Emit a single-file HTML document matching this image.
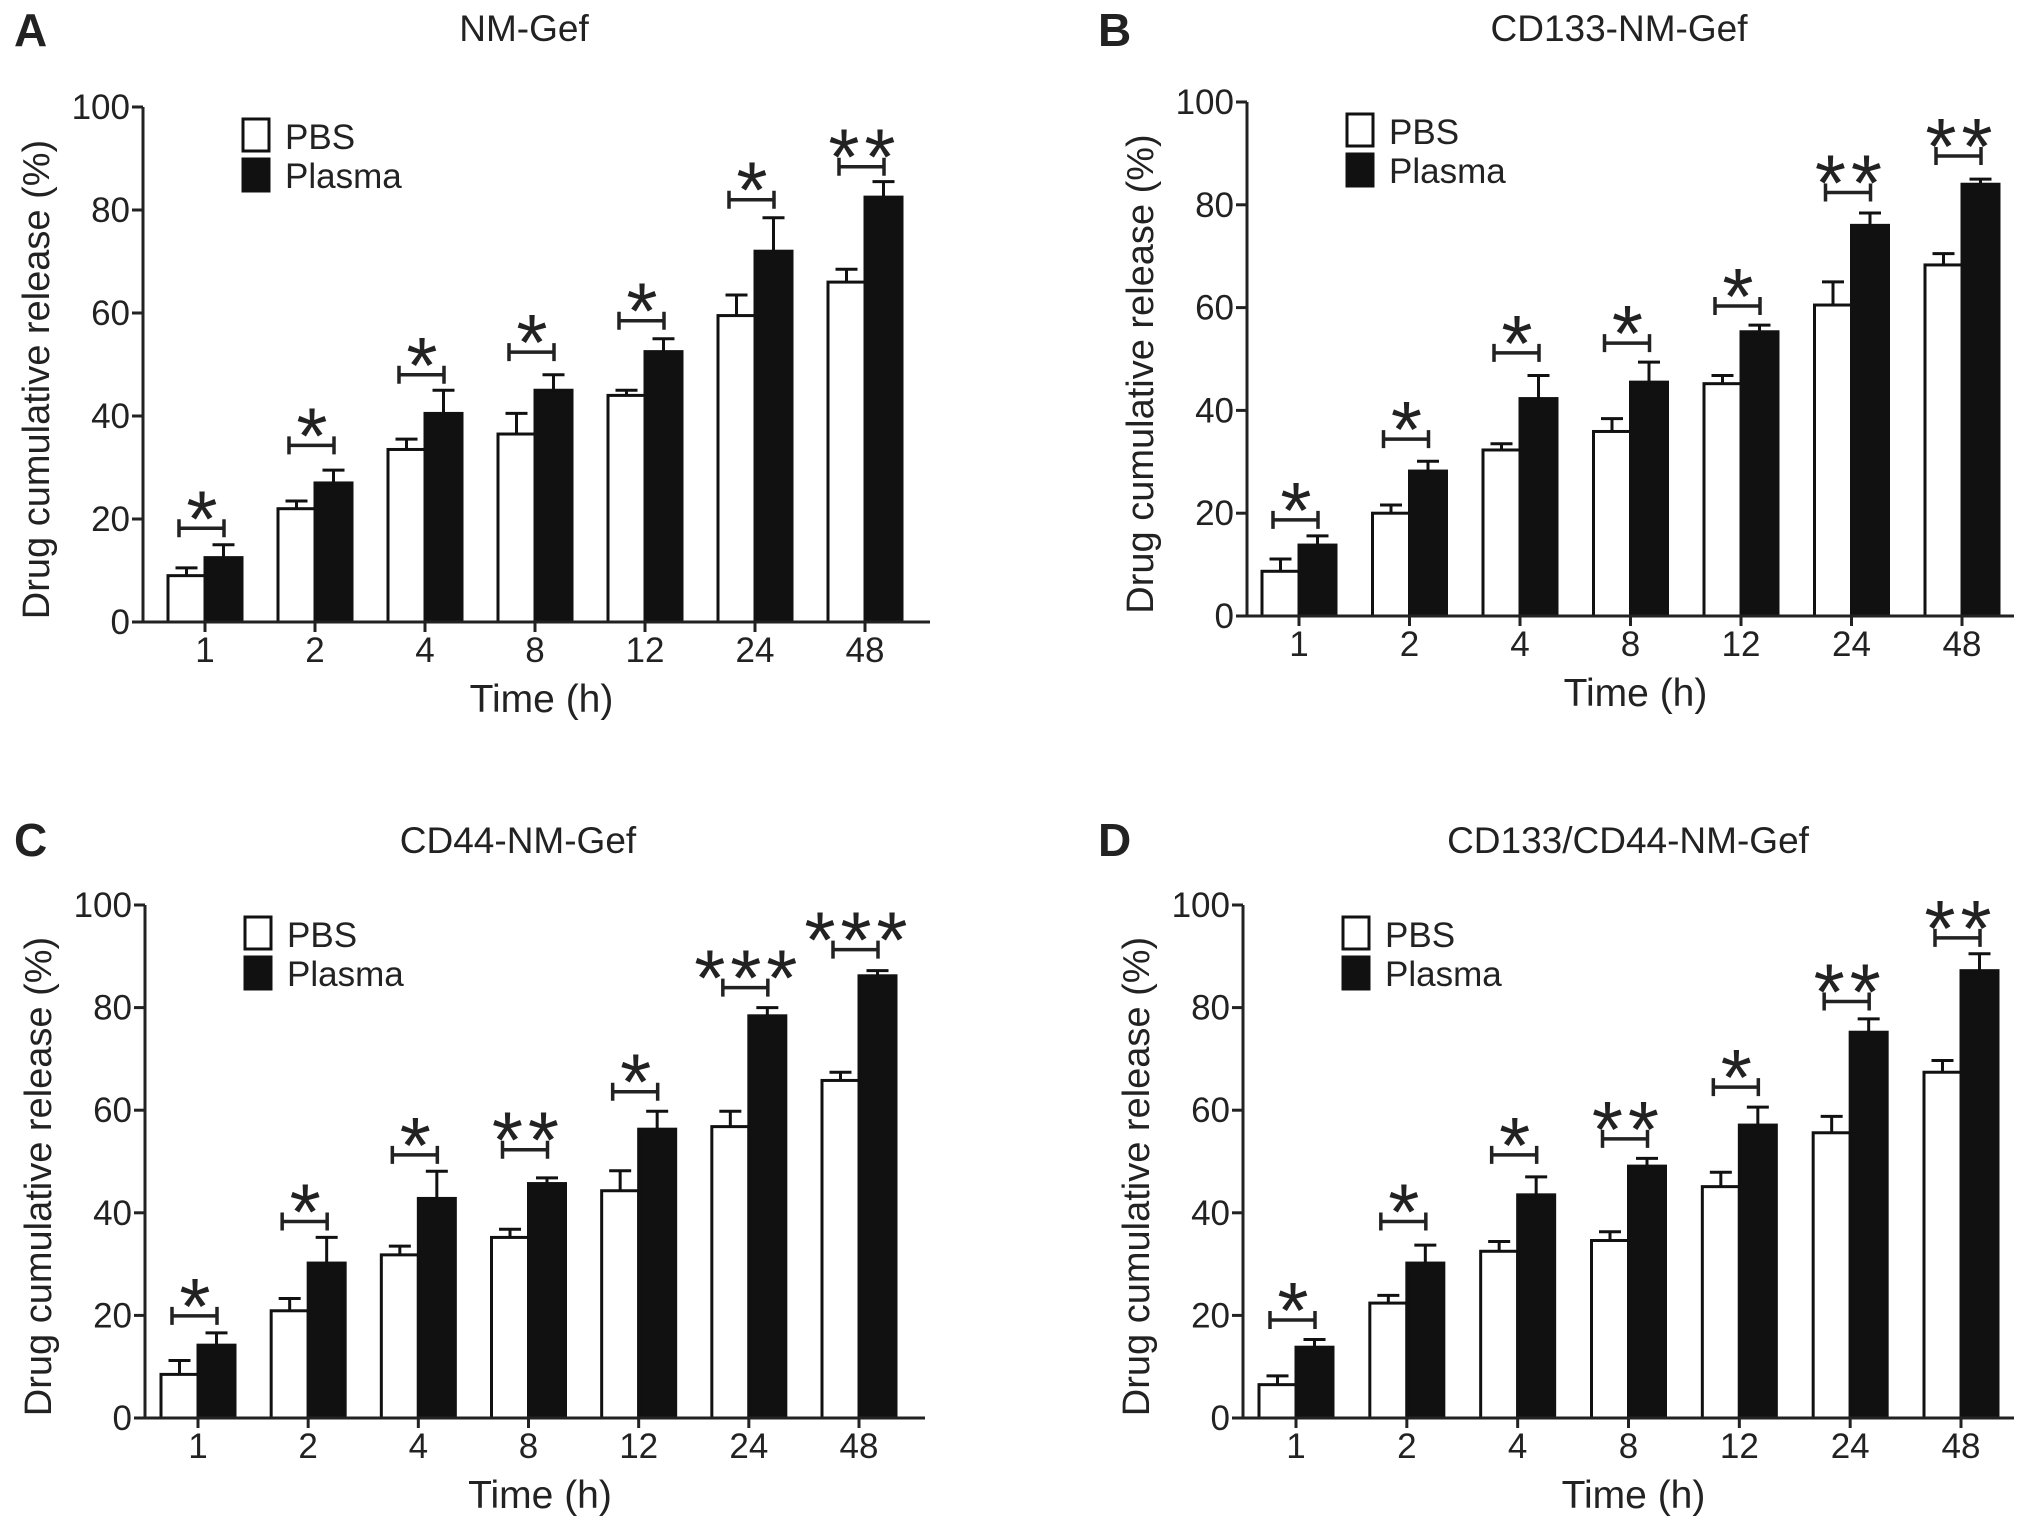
<!DOCTYPE html>
<html><head><meta charset="utf-8"><style>
html,body{margin:0;padding:0;background:#fff;}
svg{display:block;font-family:"Liberation Sans",sans-serif;}
</style></head><body>
<svg id="fig" width="2031" height="1530" viewBox="0 0 2031 1530" xmlns="http://www.w3.org/2000/svg"></svg>
<script>
const categories = ["1","2","4","8","12","24","48"];
const yTicks = [0,20,40,60,80,100];
const pbsA = [9,22,33.5,36.5,44,59.5,66];
const pbsErrA = [10.5,23.5,35.5,40.5,45,63.5,68.5];
const plasmaA = [12.5,27,40.5,45,52.5,72,82.5];
const plasmaErrA = [15,29.5,45,48,55,78.5,85.5];
const bracketA = [18.2,34.3,48,52.4,58.5,82,88.4];
const sigA = [1,1,1,1,1,1,2];
const pbsB = [8.7,20,32.3,35.9,45.2,60.5,68.3];
const pbsErrB = [11.1,21.6,33.5,38.4,46.8,65,70.5];
const plasmaB = [13.8,28.2,42.3,45.5,55.3,76,84];
const plasmaErrB = [15.6,30.1,46.8,49.4,56.6,78.4,85];
const bracketB = [18.7,34.4,51.2,53.1,60.3,82.4,89.5];
const sigB = [1,1,1,1,1,2,2];
const pbsC = [8.5,20.9,31.8,35.2,44.3,56.8,65.8];
const pbsErrC = [11.2,23.3,33.5,36.8,48.2,59.8,67.4];
const plasmaC = [14.2,30.2,42.8,45.7,56.3,78.4,86.2];
const plasmaErrC = [16.6,35.2,48.1,46.8,59.8,80,87.2];
const bracketC = [19.9,38.3,51.3,52.3,63.6,83.9,91.3];
const sigC = [1,1,1,2,1,3,3];
const pbsD = [6.5,22.4,32.5,34.6,45.1,55.6,67.4];
const pbsErrD = [8.2,23.9,34.4,36.3,47.9,58.8,69.7];
const plasmaD = [13.8,30.2,43.5,49.1,57.1,75.2,87.2];
const plasmaErrD = [15.3,33.7,47,50.6,60.6,77.8,90.5];
const bracketD = [19.1,38.3,51.3,54.4,64.5,81.2,93.6];
const sigD = [1,1,1,2,1,2,2];

const NS="http://www.w3.org/2000/svg";
const svg=document.getElementById('fig');
function mk(tag,attrs,parent,text){const e=document.createElementNS(NS,tag);for(const k in attrs)e.setAttribute(k,attrs[k]);if(text!==undefined)e.textContent=text;(parent||svg).appendChild(e);return e;}

const panels=[
 {id:'a',letter:'A',title:'NM-Gef',ax:143,y0:622,y100:107,c0:205,c6:865,xend:930,lx:14,ly:46,tx:524,ty:41,pbs:pbsA,pe:pbsErrA,pl:plasmaA,ple:plasmaErrA,br:bracketA,sig:sigA},
 {id:'b',letter:'B',title:'CD133-NM-Gef',ax:1247,y0:616,y100:102,c0:1299,c6:1962,xend:2014,lx:1098,ly:46,tx:1619,ty:41,pbs:pbsB,pe:pbsErrB,pl:plasmaB,ple:plasmaErrB,br:bracketB,sig:sigB},
 {id:'c',letter:'C',title:'CD44-NM-Gef',ax:145,y0:1418,y100:905,c0:198,c6:859,xend:925,lx:14,ly:856,tx:518,ty:853,pbs:pbsC,pe:pbsErrC,pl:plasmaC,ple:plasmaErrC,br:bracketC,sig:sigC},
 {id:'d',letter:'D',title:'CD133/CD44-NM-Gef',ax:1243,y0:1418,y100:905,c0:1296,c6:1961,xend:2014,lx:1098,ly:856,tx:1628,ty:853,pbs:pbsD,pe:pbsErrD,pl:plasmaD,ple:plasmaErrD,br:bracketD,sig:sigD}
];

panels.forEach(p=>{
  const g=mk('g',{});
  
  
  const y=v=>p.y0-(v/100)*(p.y0-p.y100);
  const step=(p.c6-p.c0)/(categories.length-1);
  const xc=i=>p.c0+i*step;
  const bw=37;
  const L=mk('text',{x:p.lx,y:p.ly,'font-size':46,'font-weight':'bold','fill':'#222'},g,p.letter);
  
  
  const T=mk('text',{x:p.tx,y:p.ty,'font-size':37,'text-anchor':'middle',fill:'#222'},g,p.title);
  
  
  categories.forEach((c,i)=>{
    const cx=xc(i);
    const wx=cx-bw;
    const eb1=mk('path',{d:`M${wx+bw/2} ${y(p.pbs[i])}V${y(p.pe[i])}M${wx+bw/2-11} ${y(p.pe[i])}H${wx+bw/2+11}`,stroke:'#111','stroke-width':3,fill:'none'},g);
    
    
    const b1=mk('rect',{x:wx,y:y(p.pbs[i]),width:bw,height:p.y0-y(p.pbs[i]),fill:'#fff',stroke:'#111','stroke-width':3},g);
    
    
    const eb2=mk('path',{d:`M${cx+bw/2} ${y(p.pl[i])}V${y(p.ple[i])}M${cx+bw/2-11} ${y(p.ple[i])}H${cx+bw/2+11}`,stroke:'#111','stroke-width':3,fill:'none'},g);
    
    
    const b2=mk('rect',{x:cx,y:y(p.pl[i]),width:bw,height:p.y0-y(p.pl[i]),fill:'#111',stroke:'#111','stroke-width':3},g);
    
    
    const by=y(p.br[i]);
    const bx1=cx-26, bx2=cx+19;
    const br=mk('path',{d:`M${bx1} ${by-9}V${by+9}M${bx1} ${by}H${bx2}M${bx2} ${by-9}V${by+9}`,stroke:'#222','stroke-width':3.5,fill:'none'},g);
    
    
    const n=p.sig[i];
    for(let k=0;k<n;k++){
      const sx=cx-3+(k-(n-1)/2)*36;
      const st=mk('text',{x:sx,y:by+18,'font-size':80,'text-anchor':'middle',fill:'#222'},g,'*');
      
      
    }
    mk('line',{x1:cx,x2:cx,y1:p.y0,y2:p.y0+10,stroke:'#222','stroke-width':3},g);
    const xl=mk('text',{x:cx,y:p.y0+40,'font-size':35,'text-anchor':'middle',fill:'#222'},g,c);
    
    
  });
  const ya=mk('line',{x1:p.ax,x2:p.ax,y1:p.y100,y2:p.y0,stroke:'#222','stroke-width':3},g);
  
  
  const xa=mk('line',{x1:p.ax,x2:p.xend,y1:p.y0,y2:p.y0,stroke:'#222','stroke-width':3},g);
  
  
  yTicks.forEach(t=>{
    mk('line',{x1:p.ax-11,x2:p.ax,y1:y(t),y2:y(t),stroke:'#222','stroke-width':3},g);
    const yl=mk('text',{x:p.ax-13,y:y(t)+12,'font-size':35,'text-anchor':'end',fill:'#222'},g,t);
    
    
  });
  const xt=mk('text',{x:(p.ax+p.xend)/2+5,y:p.y0+90,'font-size':39,'text-anchor':'middle',fill:'#222'},g,'Time (h)');
  
  
  const ycx=p.ax-94, ycy=(p.y0+p.y100)/2+15;
  const yt=mk('text',{x:ycx,y:ycy,'font-size':38,'text-anchor':'middle',fill:'#222',transform:`rotate(-90 ${ycx} ${ycy})`},g,'Drug cumulative release (%)');
  
  
  const lg=mk('g',{},g);
  
  
  const lx=p.ax+100, ly=p.y100+12;
  mk('rect',{x:lx,y:ly,width:26,height:32,fill:'#fff',stroke:'#111','stroke-width':3},lg);
  const t1=mk('text',{x:lx+42,y:ly+30,'font-size':35,fill:'#222'},lg,'PBS');
  
  
  mk('rect',{x:lx,y:ly+40,width:26,height:32,fill:'#111',stroke:'#111','stroke-width':3},lg);
  const t2=mk('text',{x:lx+42,y:ly+69,'font-size':35,fill:'#222'},lg,'Plasma');
  
  
});
</script>
</body></html>
